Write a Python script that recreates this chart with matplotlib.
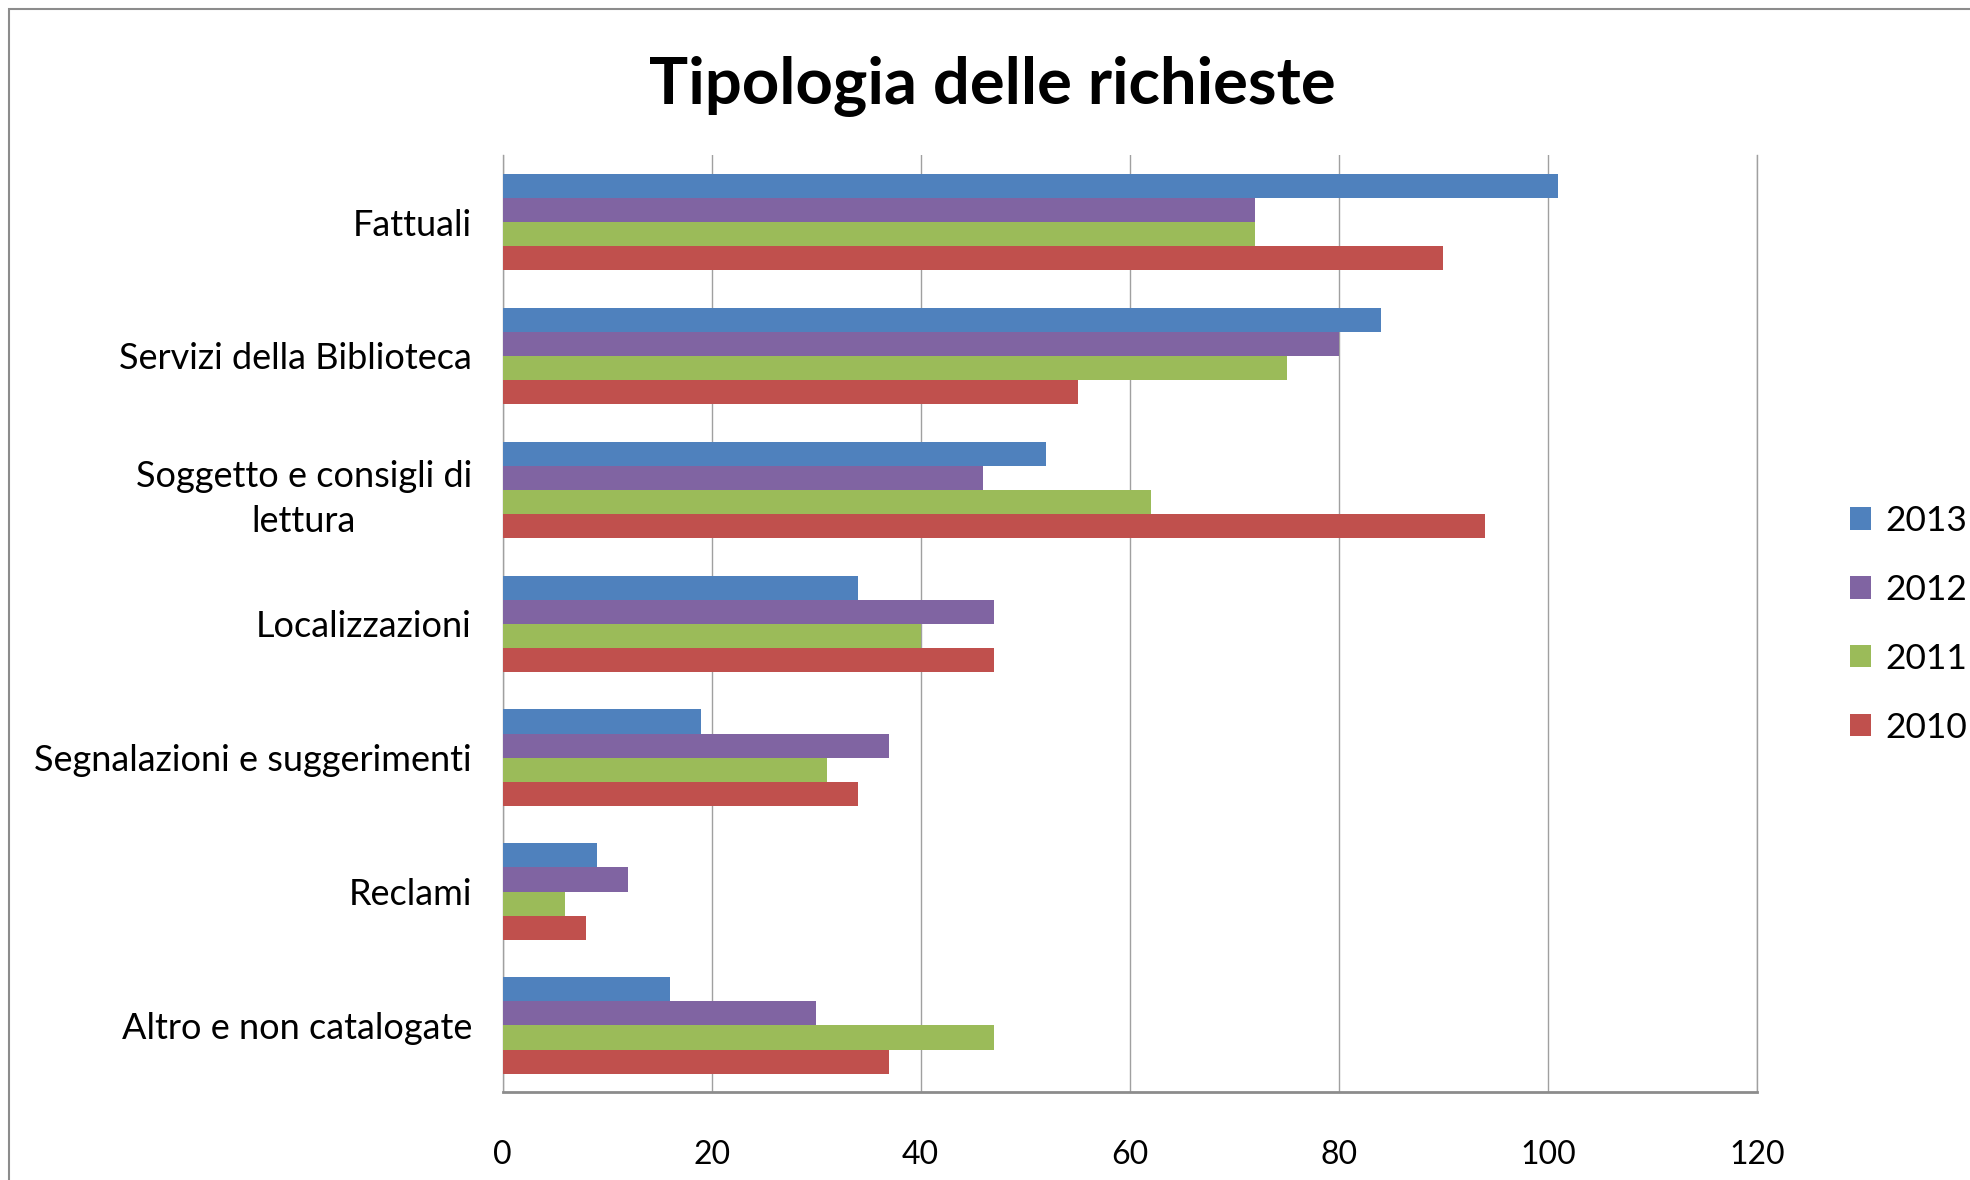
import numpy as np
import matplotlib
matplotlib.use("Agg")
import matplotlib.pyplot as plt
from matplotlib.patches import Rectangle

plt.rcParams['font.family'] = ['Lato', 'DejaVu Sans']

categories = [
    "Fattuali",
    "Servizi della Biblioteca",
    "Soggetto e consigli di\nlettura",
    "Localizzazioni",
    "Segnalazioni e suggerimenti",
    "Reclami",
    "Altro e non catalogate",
]
years = ["2013", "2012", "2011", "2010"]
v2013 = [101, 84, 52, 34, 19, 9, 16]
v2012 = [72, 80, 46, 47, 37, 12, 30]
v2011 = [72, 75, 62, 40, 31, 6, 47]
v2010 = [90, 55, 94, 47, 34, 8, 37]
series = [v2013, v2012, v2011, v2010]
colors = ["#4F81BD", "#8064A2", "#9BBB59", "#C0504D"]
xticks = [0, 20, 40, 60, 80, 100, 120]

fig = plt.figure(figsize=(19.7, 11.8), dpi=100)
ax = fig.add_axes([0.2551, 0.0742, 0.6368, 0.7944])

n = len(series)
bar_h = 0.18
y = np.arange(len(categories))
for i, (vals, col, yr) in enumerate(zip(series, colors, years)):
    offs = (i - (n - 1) / 2) * bar_h
    ax.barh(y + offs, vals, height=bar_h, color=col, label=yr, zorder=3)

ax.set_ylim(len(categories) - 0.5, -0.5)
ax.set_xlim(0, 120)
ax.set_xticks(xticks)
ax.set_xticklabels([str(t) for t in xticks], fontsize=23)
ax.set_yticks(y)
ax.set_yticklabels(categories, fontsize=26)
for lab in ax.get_yticklabels():
    lab.set_multialignment('center')
    lab.set_linespacing(1.45)
ax.tick_params(axis='y', length=0, pad=22)
ax.tick_params(axis='x', length=0, pad=34)

ax.grid(axis='x', color='#A0A0A0', linewidth=1.0, zorder=0)
ax.set_axisbelow(True)
ax.spines['top'].set_visible(False)
ax.spines['right'].set_color('#A0A0A0')
ax.spines['right'].set_linewidth(1.0)
ax.spines['left'].set_color('#A0A0A0')
ax.spines['left'].set_linewidth(1.0)
ax.spines['bottom'].set_color('#8C8C8C')
ax.spines['bottom'].set_linewidth(2.0)

fig.text(0.5036, 0.927, "Tipologia delle richieste", fontsize=47,
         fontweight='bold', ha='center', va='center')

handles, labels = ax.get_legend_handles_labels()
fig.legend(handles, labels, loc='upper left', bbox_to_anchor=(0.939, 0.572),
           frameon=False, fontsize=25.5, handlelength=0.6, handleheight=0.6,
           handletextpad=0.4, labelspacing=1.04, borderpad=0, borderaxespad=0)

# outer chart frame
fig.patches.append(Rectangle((9 / 1970, -0.1), 1.2, 1 - 9 / 1180 + 0.1,
                             transform=fig.transFigure, fill=False,
                             edgecolor='#8C8C8C', linewidth=1.5))

fig.savefig("out.png", dpi=100)
